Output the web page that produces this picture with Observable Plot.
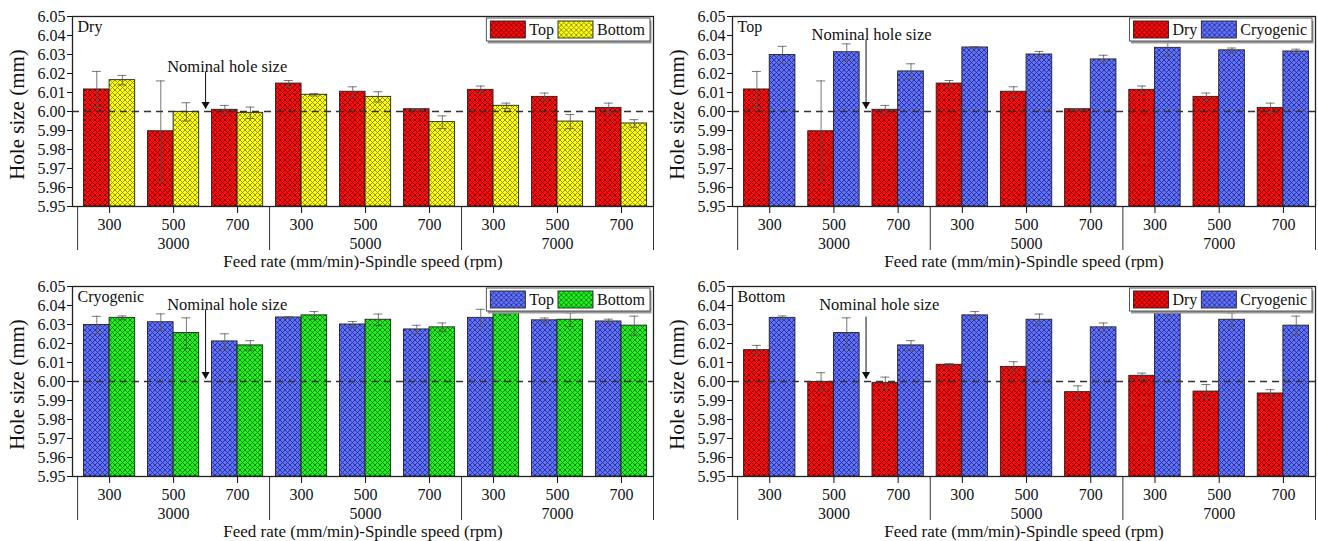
<!DOCTYPE html>
<html>
<head>
<meta charset="utf-8">
<script src="https://cdn.jsdelivr.net/npm/d3@7"></script>
<script src="https://cdn.jsdelivr.net/npm/@observablehq/plot@0.6"></script>
<style>
  html, body { margin: 0; padding: 0; background: #fff; }
  #grid { display: grid; grid-template-columns: 659px 659px; width: 1318px; }
  #grid svg { display: block; }
</style>
</head>
<body>
<svg width="0" height="0" style="position:absolute">
  <defs>
    <pattern id="pRed" width="5" height="5" patternUnits="userSpaceOnUse">
      <rect width="5" height="5" fill="#ff0a0a"/>
      <path d="M0,0L5,5M5,0L0,5" stroke="#7a0000" stroke-width="0.9"/>
    </pattern>
    <pattern id="pYellow" width="5" height="5" patternUnits="userSpaceOnUse">
      <rect width="5" height="5" fill="#ffff10"/>
      <path d="M0,0L5,5M5,0L0,5" stroke="#8a8a00" stroke-width="0.9"/>
    </pattern>
    <pattern id="pBlue" width="5" height="5" patternUnits="userSpaceOnUse">
      <rect width="5" height="5" fill="#6272ff"/>
      <path d="M0,0L5,5M5,0L0,5" stroke="#25308a" stroke-width="0.9"/>
    </pattern>
    <pattern id="pGreen" width="5" height="5" patternUnits="userSpaceOnUse">
      <rect width="5" height="5" fill="#20f020"/>
      <path d="M0,0L5,5M5,0L0,5" stroke="#0a7a0a" stroke-width="0.9"/>
    </pattern>
  </defs>
</svg>
<div id="grid"></div>
<script>
// ---- data ----
const feedRates = ["300", "500", "700", "300", "500", "700", "300", "500", "700"];
const spindleSpeeds = ["3000", "5000", "7000"];
const yTicks = [5.95, 5.96, 5.97, 5.98, 5.99, 6.00, 6.01, 6.02, 6.03, 6.04, 6.05];
const nominalSize = 6.00;

const dryTop       = [6.0116, 5.9896, 6.0009, 6.0147, 6.0104, 6.0012, 6.0114, 6.0077, 6.0019];
const dryTopErr    = [0.0095, 0.0265, 0.0023, 0.0016, 0.0026, 0.0003, 0.0020, 0.0020, 0.0025];
const dryBottom    = [6.0165, 5.9998, 5.9993, 6.0088, 6.0077, 5.9944, 6.0030, 5.9947, 5.9937];
const dryBottomErr = [0.0025, 0.0048, 0.0030, 0.0006, 0.0027, 0.0033, 0.0014, 0.0037, 0.0020];
const cryoTop      = [6.0297, 6.0312, 6.0211, 6.0337, 6.0300, 6.0274, 6.0335, 6.0322, 6.0316];
const cryoTopErr   = [0.0046, 0.0044, 0.0040, 0.0004, 0.0016, 0.0022, 0.0045, 0.0012, 0.0012];
const cryoBottom   = [6.0335, 6.0255, 6.0190, 6.0348, 6.0325, 6.0285, 6.0362, 6.0325, 6.0294];
const cryoBottomErr= [0.0010, 0.0080, 0.0025, 0.0020, 0.0030, 0.0023, 0.0012, 0.0036, 0.0050];

const panels = [
  {title: "Dry", names: ["Top", "Bottom"], vals: [dryTop, dryBottom], errs: [dryTopErr, dryBottomErr],
   fills: ["url(#pRed)", "url(#pYellow)"], ml: 72, mr: 6, h: 270, mb: 64,
   note: {tx: 0.9, ty: 6.0208, ax: 1.5, ay1: 6.0208, ay2: 6.0014}},
  {title: "Top", names: ["Dry", "Cryogenic"], vals: [dryTop, cryoTop], errs: [dryTopErr, cryoTopErr],
   fills: ["url(#pRed)", "url(#pBlue)"], ml: 73, mr: 3, h: 270, mb: 64,
   note: {tx: 0.65, ty: 6.0374, ax: 1.5, ay1: 6.0374, ay2: 6.0014}},
  {title: "Cryogenic", names: ["Top", "Bottom"], vals: [cryoTop, cryoBottom], errs: [cryoTopErr, cryoBottomErr],
   fills: ["url(#pBlue)", "url(#pGreen)"], ml: 72, mr: 6, h: 271, mb: 65,
   note: {tx: 0.9, ty: 6.0377, ax: 1.5, ay1: 6.0377, ay2: 6.0014}},
  {title: "Bottom", names: ["Dry", "Cryogenic"], vals: [dryBottom, cryoBottom], errs: [dryBottomErr, cryoBottomErr],
   fills: ["url(#pRed)", "url(#pBlue)"], ml: 73, mr: 3, h: 271, mb: 65,
   note: {tx: 0.77, ty: 6.0374, ax: 1.5, ay1: 6.0339, ay2: 6.0014}}
];

const W = 659;
const FONT = "'Liberation Serif', 'Times New Roman', serif";
const grid = document.getElementById("grid");

function makePanel(cfg) {
  const marks = [];
  const half = 0.4;
  cfg.vals.forEach((vals, s) => {
    const rows = vals.map((v, i) => ({i, v, e: cfg.errs[s][i]}));
    const lo = s === 0 ? -half : 0, hi = s === 0 ? 0 : half;
    const c = s === 0 ? -half / 2 : half / 2;
    marks.push(Plot.rect(rows, {
      x1: d => d.i + lo, x2: d => d.i + hi, y1: 5.95, y2: "v",
      fill: cfg.fills[s], stroke: "#222", strokeWidth: 0.9
    }));
    marks.push(Plot.ruleX(rows, {x: d => d.i + c, y1: d => d.v - d.e, y2: d => d.v + d.e, stroke: "#555", strokeWidth: 0.8}));
    marks.push(Plot.ruleY(rows, {y: d => d.v + d.e, x1: d => d.i + c - 0.07, x2: d => d.i + c + 0.07, stroke: "#555", strokeWidth: 0.8}));
    marks.push(Plot.ruleY(rows, {y: d => d.v - d.e, x1: d => d.i + c - 0.07, x2: d => d.i + c + 0.07, stroke: "#555", strokeWidth: 0.8}));
  });
  marks.push(Plot.ruleY([nominalSize], {stroke: "#333", strokeWidth: 1.3, strokeDasharray: "7,5"}));
  // annotation
  marks.push(Plot.text([cfg.note], {x: "tx", y: "ty", text: () => "Nominal hole size", textAnchor: "start", lineAnchor: "bottom", fontSize: 16.5, fill: "#111"}));
  marks.push(Plot.ruleX([cfg.note], {x: "ax", y1: "ay1", y2: "ay2", stroke: "#111", strokeWidth: 1}));
  marks.push(Plot.dot([cfg.note], {x: "ax", y: "ay2", symbol: "triangle", rotate: 180, r: 3, fill: "#111", stroke: "none", dy: -4.5}));
  // panel label
  marks.push(Plot.text([cfg.title], {text: d => d, frameAnchor: "top-left", textAnchor: "start", lineAnchor: "top", dx: 5, dy: 4, fontSize: 16, fill: "#111"}));
  // group separators below axis
  marks.push(Plot.ruleX([-0.5, 2.5, 5.5, 8.5], {y1: 5.95, y2: 5.95, insetBottom: -44, stroke: "#333", strokeWidth: 1}));
  // second-level labels
  marks.push(Plot.text(spindleSpeeds, {x: (d, i) => 1 + 3 * i, text: d => d, frameAnchor: "bottom", lineAnchor: "top", dy: 31, fontSize: 16, fill: "#111"}));
  // axis titles
  marks.push(Plot.text(["Hole size (mm)"], {text: d => d, frameAnchor: "left", textAnchor: "middle", lineAnchor: "middle", rotate: -90, dx: -55, dy: 3, fontSize: 21, fill: "#111"}));
  marks.push(Plot.text(["Feed rate (mm/min)-Spindle speed (rpm)"], {text: d => d, frameAnchor: "bottom", textAnchor: "middle", lineAnchor: "bottom", dy: 60, fontSize: 17, fill: "#111"}));
  marks.push(Plot.frame({stroke: "#222", strokeWidth: 1.3}));

  const svg = Plot.plot({
    width: W, height: cfg.h,
    marginLeft: cfg.ml, marginRight: cfg.mr, marginTop: 16, marginBottom: cfg.mb,
    style: {fontFamily: FONT, fontSize: "16px", color: "#111", background: "#fff"},
    x: {domain: [-0.58, 8.5], ticks: d3.range(9), tickFormat: i => feedRates[i], tickSize: 7, tickPadding: 5, label: null},
    y: {domain: [5.95, 6.05], ticks: yTicks, tickFormat: d3.format(".2f"), tickSize: 5, tickPadding: 2, label: null},
    marks
  });
  grid.appendChild(svg);

  // legend box (top-right inside frame)
  const frameRight = W - cfg.mr;
  const g = d3.select(svg).append("g").attr("font-family", FONT).attr("font-size", 16).attr("text-anchor", "start");
  const shadow = g.append("rect");
  const box = g.append("rect");
  let x = 4;
  const sw = 35, sh = 17, top = 19;
  cfg.names.forEach((name, s) => {
    g.append("rect").attr("x", x).attr("y", top + 2).attr("width", sw).attr("height", sh)
      .attr("fill", cfg.fills[s]).attr("stroke", "#222").attr("stroke-width", 0.9);
    x += sw + 4;
    const t = g.append("text").attr("x", x).attr("y", top + 16).attr("fill", "#111").attr("text-anchor", "start").text(name);
    x += t.node().getComputedTextLength() + 4;
  });
  const bw = x + 1;
  shadow.attr("x", 1.5).attr("y", top + 1.5).attr("width", bw).attr("height", 23).attr("fill", "#999");
  box.attr("x", 0).attr("y", top - 1).attr("width", bw).attr("height", 23).attr("fill", "#fff").attr("stroke", "#444").attr("stroke-width", 0.9);
  g.attr("transform", `translate(${frameRight - 3 - bw},0)`);
}

panels.forEach(makePanel);
</script>
</body>
</html>
